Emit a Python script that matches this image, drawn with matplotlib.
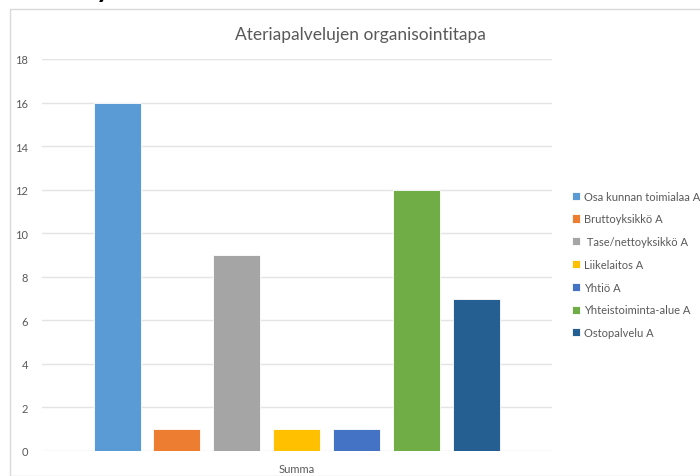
import matplotlib.pyplot as plt
from matplotlib.patches import Rectangle

# ruokapalvelujen organisointitavat, kuntien lukumäärät
categories = ['Osa kunnan toimialaa A', 'Bruttoyksikkö A', ' Tase/nettoyksikkö A',
              'Liikelaitos A', 'Yhtiö A', 'Yhteistoiminta-alue A', 'Ostopalvelu A']
values = [16, 1, 9, 1, 1, 12, 7]
colors = ['#5b9bd5', '#ed7d31', '#a5a5a5', '#ffc000', '#4472c4', '#70ad47', '#255e91']
yticks = [0, 2, 4, 6, 8, 10, 12, 14, 16, 18]
group_label = 'Summa'

txt = '#595959'
plt.rcParams['font.family'] = ['Lato', 'DejaVu Sans']

fig = plt.figure(figsize=(7, 4.77), dpi=100)
W, H = 700, 477

# kaavion kehys
fig.patches.append(Rectangle((10 / W, 0), 1.0, 1 - 10 / H, transform=fig.transFigure,
                             fill=False, edgecolor='#d9d9d9', linewidth=1.0))
# yläpuolelta leikkautunut teksti
fig.text(96 / W, 1 + 3 / H, 'y', fontsize=20, fontweight='bold', color='black',
         va='baseline', ha='left')

ax = fig.add_axes([42 / W, 1 - 452 / H, 510 / W, 392 / H])
x = list(range(len(values)))
bars = ax.bar(x, values, width=47 / 60, color=colors, edgecolor='white',
              linewidth=0.6, zorder=3)

ax.set_xlim(-1.25, 7.25)
ax.set_ylim(0, 18)
ax.set_yticks(yticks)
ax.set_yticklabels([str(t) for t in yticks], fontsize=8, color=txt)
ax.set_xticks([3])
ax.set_xticklabels([group_label], fontsize=8, color=txt)
ax.tick_params(axis='y', length=0, pad=10)
ax.tick_params(axis='x', length=0, pad=9)
ax.grid(axis='y', color='#e4e4e4', linewidth=1.0, zorder=0)
for s in ax.spines.values():
    s.set_visible(False)

fig.text(360 / W, 1 - 35 / H, 'Ateriapalvelujen organisointitapa', fontsize=12.5,
         color=txt, ha='center', va='center')

fig.legend(bars, categories, loc='upper left', bbox_to_anchor=(566 / W, 1 - 186 / H),
           frameon=False, fontsize=8, labelcolor=txt, handlelength=0.75,
           handleheight=0.75, handletextpad=0.35, labelspacing=1.06, borderpad=0)

fig.savefig('out.png', dpi=100)
